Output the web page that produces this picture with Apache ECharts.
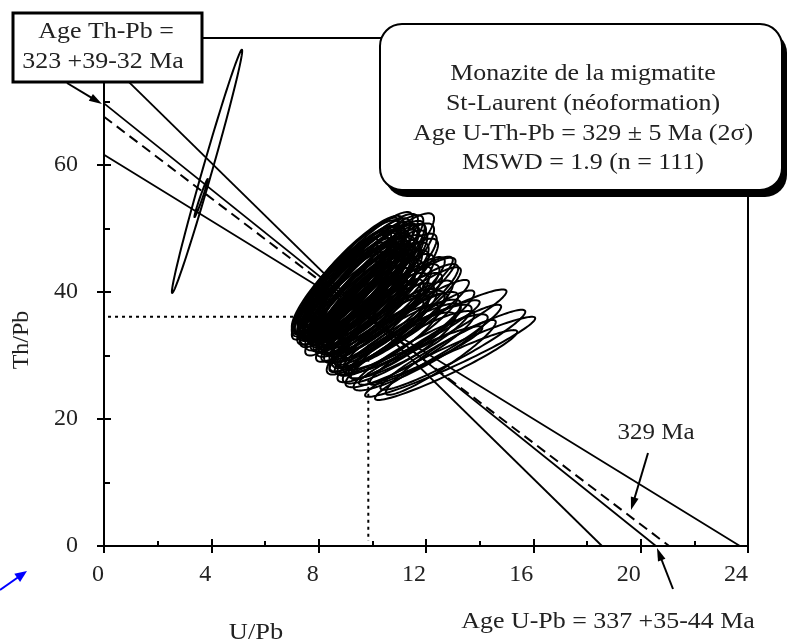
<!DOCTYPE html>
<html><head><meta charset="utf-8">
<script src="https://cdn.jsdelivr.net/npm/echarts@6/dist/echarts.min.js"></script>
<style>html,body{margin:0;padding:0;background:#fff}#c{width:790px;height:643px}</style>
</head><body><div id="c"></div>
<script>
// ---- axis ticks ----
const xTickValues = [0, 4, 8, 12, 16, 20, 24];
const yTickValues = [0, 20, 40, 60];

// ---- error ellipses (centre U/Pb, centre Th/Pb, half-range U/Pb, half-range Th/Pb, correlation) ----
const ellCx = [3.84, 3.62,
  9.0, 8.8, 9.0, 9.2, 8.9, 9.4, 9.6, 9.1, 9.3, 9.8, 10.0, 9.5, 9.7, 8.6, 8.6, 9.9, 10.2, 9.0, 9.6, 10.1,
  8.9, 9.1, 9.3, 9.5, 8.9, 9.7, 9.2, 9.9, 9.0, 9.4, 10.3, 9.8,
  9.05, 9.15, 9.25, 9.35, 9.45, 9.55, 9.65, 9.75, 9.85, 9.95, 10.05, 10.15, 9.35, 9.55, 9.75, 9.95, 10.25,
  9.1, 8.95, 9.2, 9.5, 9.7, 10.0, 10.3, 10.4, 9.4, 9.8, 10.2, 10.5, 9.6, 10.0, 10.4, 10.7, 10.3, 11.1, 11.4, 10.6, 11.0,
  10.2, 10.5, 10.0, 10.8, 10.4, 10.9, 10.1, 11.0, 11.4, 11.8, 9.6, 9.2, 10.6, 11.0, 10.9,
  12.9, 12.1, 12.75, 11.5, 11.8, 10.95, 10.55, 10.6, 13.0, 12.35, 12.55, 11.2, 11.5];
const ellCy = [59.0, 54.8,
  41.8, 41.0, 42.5, 41.5, 40.2, 43.0, 42.0, 39.5, 40.5, 43.5, 42.5, 38.8, 39.8, 39.5, 41.0, 41.0, 44.0, 38.5, 37.8, 39.0,
  41.5, 43.0, 42.2, 40.8, 39.0, 41.5, 37.8, 40.0, 42.0, 39.2, 41.2, 38.2,
  41.2, 42.0, 40.0, 41.8, 40.6, 42.6, 41.0, 42.2, 40.4, 42.8, 41.6, 40.2, 39.0, 39.4, 38.6, 39.2, 42.6,
  40.6, 39.8, 43.4, 44.0, 43.8, 38.0, 38.8, 40.6, 37.4, 37.0, 36.4, 37.4, 36.2, 35.0, 35.2, 34.2, 33.8, 33.0, 32.2, 32.4, 31.2,
  37.0, 36.0, 35.5, 35.0, 34.0, 33.5, 33.0, 32.0, 31.0, 30.5, 35.0, 36.5, 38.0, 37.0, 38.2,
  29.8, 33.9, 28.5, 33.2, 30.0, 36.2, 38.0, 33.6, 30.9, 31.7, 29.7, 35.0, 33.25];
const ellSx = [1.31, 0.25,
  1.9, 1.8, 2.0, 1.9, 1.7, 2.0, 2.1, 1.8, 1.9, 2.1, 2.0, 1.8, 1.9, 1.6, 1.6, 2.0, 2.1, 1.7, 1.8, 2.0,
  1.8, 1.9, 1.9, 1.9, 1.7, 2.0, 1.7, 1.9, 1.9, 1.8, 2.1, 1.9,
  1.85, 1.9, 1.8, 1.9, 1.85, 2.0, 1.9, 2.0, 1.9, 2.0, 2.0, 1.95, 1.75, 1.8, 1.8, 1.9, 2.05,
  1.8, 1.7, 1.95, 2.0, 2.0, 1.9, 2.0, 2.05, 1.7, 1.8, 1.9, 2.0, 1.7, 1.8, 1.9, 2.0, 1.8, 2.2, 2.3, 1.9, 2.1,
  2.0, 2.1, 1.9, 2.2, 2.0, 2.3, 1.8, 2.3, 2.4, 2.5, 1.7, 1.7, 2.1, 2.2, 2.2,
  3.17, 2.9, 2.65, 2.5, 2.3, 2.35, 2.45, 2.2, 2.7, 2.45, 2.05, 2.4, 2.3];
const ellSy = [19.15, 3.0,
  8.5, 8.0, 8.8, 8.4, 7.6, 8.6, 8.8, 7.8, 8.0, 8.6, 8.2, 7.5, 7.8, 7.0, 7.6, 8.0, 8.4, 7.2, 7.3, 7.6,
  8.2, 8.7, 8.3, 8.0, 7.3, 8.3, 7.0, 7.7, 8.4, 7.5, 8.0, 7.2,
  8.2, 8.4, 7.8, 8.3, 8.0, 8.5, 8.0, 8.4, 7.8, 8.4, 8.1, 7.6, 7.4, 7.5, 7.3, 7.5, 8.2,
  7.9, 7.5, 8.6, 8.6, 8.5, 7.0, 7.2, 7.8, 6.8, 6.8, 6.6, 7.0, 6.4, 6.2, 6.2, 6.0, 5.8, 5.8, 5.8, 5.6, 5.6,
  7.0, 7.0, 6.5, 6.8, 6.5, 6.5, 6.0, 6.2, 6.0, 6.0, 6.0, 6.5, 7.5, 7.4, 7.2,
  6.3, 6.5, 5.5, 5.5, 4.6, 7.7, 7.55, 6.2, 6.3, 6.3, 5.9, 6.9, 7.0];
const ellRho = [0.99, 0.98,
  0.9, 0.89, 0.9, 0.89, 0.88, 0.9, 0.89, 0.88, 0.89, 0.9, 0.89, 0.88, 0.88, 0.89, 0.9, 0.89, 0.9, 0.88, 0.87, 0.87,
  0.9, 0.91, 0.9, 0.89, 0.88, 0.89, 0.87, 0.88, 0.9, 0.88, 0.89, 0.87,
  0.88, 0.88, 0.87, 0.88, 0.87, 0.88, 0.87, 0.88, 0.87, 0.88, 0.87, 0.87, 0.87, 0.87, 0.86, 0.87, 0.88,
  0.88, 0.88, 0.89, 0.9, 0.89, 0.86, 0.87, 0.88, 0.86, 0.86, 0.86, 0.87, 0.86, 0.86, 0.86, 0.87, 0.86, 0.88, 0.89, 0.87, 0.88,
  0.90, 0.90, 0.89, 0.90, 0.89, 0.90, 0.88, 0.90, 0.90, 0.91, 0.89, 0.90, 0.91, 0.91, 0.92,
  0.96, 0.95, 0.95, 0.94, 0.94, 0.93, 0.93, 0.93, 0.95, 0.95, 0.94, 0.94, 0.94];

// ---- regression lines (Th/Pb intercept, U/Pb intercept) ----
const envelopeYInt = [69.7, 61.6, 76.9];
const envelopeXInt = [20.57, 23.7, 18.56];
const bestFitYInt = 67.6;
const bestFitXInt = 21.06;
// ---- 329 Ma reference point (U/Pb, Th/Pb) ----
const refUPb = 9.85;
const refThPb = 36.1;

const FONT = 'Liberation Serif';
const chart = echarts.init(document.getElementById('c'));

const ellData = ellCx.map((v, i) => [v, ellCy[i], ellSx[i], ellSy[i], ellRho[i]]);

function arrow(x1, y1, x2, y2, color, hl, hw) {
  const dx = x2 - x1, dy = y2 - y1, L = Math.hypot(dx, dy), ux = dx / L, uy = dy / L;
  const bx = x2 - ux * hl, by = y2 - uy * hl;
  return [
    {type: 'line', z: 101, shape: {x1: x1, y1: y1, x2: bx + ux * 2, y2: by + uy * 2}, style: {stroke: color, lineWidth: 2}},
    {type: 'polygon', z: 101, shape: {points: [[x2, y2], [bx - uy * hw, by + ux * hw], [bx + uy * hw, by - ux * hw]]}, style: {fill: color}}
  ];
}
function txt(text, x, y, opts) {
  return Object.assign({type: 'text', z: 102, x: x, y: y, scaleX: 1.08,
    style: {text: text, fontFamily: FONT, fontSize: 24, fill: '#222', align: 'center', verticalAlign: 'middle'}}, opts || {});
}

const series = [];
envelopeYInt.forEach((yi, i) => {
  series.push({type: 'line', silent: true, symbol: 'none', animation: false, z: 3,
    data: [[0, yi], [envelopeXInt[i], 0]], lineStyle: {color: '#000', width: 1.8}});
});
series.push({type: 'line', silent: true, symbol: 'none', animation: false, z: 3,
  data: [[0, bestFitYInt], [bestFitXInt, 0]], lineStyle: {color: '#000', width: 2, type: [10, 6]}});
series.push({type: 'line', silent: true, symbol: 'none', animation: false, z: 3,
  data: [[0.15, refThPb], [refUPb, refThPb]], lineStyle: {color: '#000', width: 2, type: [3, 4]}});
series.push({type: 'line', silent: true, symbol: 'none', animation: false, z: 3,
  data: [[refUPb, refThPb], [refUPb, 0.8]], lineStyle: {color: '#000', width: 2, type: [3, 4]}});
series.push({
  type: 'custom', silent: true, animation: false, z: 4,
  encode: {x: 0, y: 1},
  data: ellData,
  renderItem: function (params, api) {
    const cx = api.value(0), cy = api.value(1), sx = api.value(2), sy = api.value(3), r = api.value(4);
    const s = Math.sqrt(1 - r * r);
    const pts = [];
    const N = 120;
    for (let k = 0; k < N; k++) {
      const t = k / N * Math.PI * 2;
      pts.push(api.coord([cx + sx * Math.cos(t), cy + sy * (r * Math.cos(t) + s * Math.sin(t))]));
    }
    return {type: 'polygon', shape: {points: pts}, style: {fill: 'none', stroke: '#000', lineWidth: 2}};
  }
});

const axisCommon = {type: 'value', splitLine: {show: false}};
const graphics = [].concat(
  [{type: 'rect', z: 100, shape: {x: 13, y: 13, width: 189, height: 69}, style: {fill: '#fff', stroke: '#000', lineWidth: 3}}],
  [txt('Age Th-Pb =', 106, 32), txt('323 +39-32 Ma', 103, 62)],
  arrow(67, 83, 102, 104, '#000', 13, 4),
  [{type: 'rect', z: 99, shape: {x: 385, y: 31, width: 402, height: 166, r: 22}, style: {fill: '#000'}},
   {type: 'rect', z: 100, shape: {x: 380, y: 24, width: 402, height: 166, r: 22}, style: {fill: '#fff', stroke: '#000', lineWidth: 2}}],
  [txt('Monazite de la migmatite', 583, 74), txt('St-Laurent (néoformation)', 583, 104),
   txt('Age U-Th-Pb = 329 \u00b1 5 Ma (2\u03c3)', 583, 134), txt('MSWD = 1.9 (n = 111)', 583, 163)],
  [txt('329 Ma', 656, 433, {scaleX: 1.04})],
  arrow(648, 453, 631, 510, '#000', 13, 4),
  [txt('Age U-Pb = 337 +35-44 Ma', 608, 622)],
  arrow(673, 589, 657, 548, '#000', 13, 4),
  [txt('U/Pb', 256, 633, {scaleX: 1.1}), txt('Th/Pb', 22, 340, {scaleX: 1, rotation: Math.PI / 2})],
  arrow(0, 590, 27, 571, '#0000ff', 12, 5)
);

chart.setOption({
  animation: false,
  backgroundColor: '#fff',
  grid: {left: 104, right: 42, top: 38, bottom: 97, show: true, borderColor: '#000', borderWidth: 2, backgroundColor: 'transparent'},
  xAxis: [
    Object.assign({}, axisCommon, {min: 0, max: 24, interval: 4, position: 'bottom',
      axisLine: {show: true, lineStyle: {color: '#000', width: 2}},
      axisTick: {show: true, inside: true, length: 7, lineStyle: {color: '#000', width: 2}},
      minorTick: {show: true, splitNumber: 2, length: 5, lineStyle: {color: '#000', width: 2}},
      axisLabel: {show: true, margin: 17, align: 'right', fontFamily: FONT, fontSize: 24, color: '#222',
        customValues: xTickValues}}),
    Object.assign({}, axisCommon, {min: 0, max: 24, interval: 4, position: 'bottom', offset: 0,
      axisLine: {show: false},
      axisTick: {show: true, inside: false, length: 7, lineStyle: {color: '#000', width: 2}},
      axisLabel: {show: false}})
  ],
  yAxis: [
    Object.assign({}, axisCommon, {min: 0, max: 80, interval: 20, position: 'left',
      axisLine: {show: true, lineStyle: {color: '#000', width: 2}},
      axisTick: {show: true, inside: true, length: 7, lineStyle: {color: '#000', width: 2}},
      minorTick: {show: true, splitNumber: 2, length: 6, lineStyle: {color: '#000', width: 2}},
      axisLabel: {show: true, margin: 26, fontFamily: FONT, fontSize: 24, color: '#222',
        customValues: yTickValues}}),
    Object.assign({}, axisCommon, {min: 0, max: 80, interval: 20, position: 'left', offset: 0,
      axisLine: {show: false},
      axisTick: {show: true, inside: false, length: 7, lineStyle: {color: '#000', width: 2}},
      axisLabel: {show: false}})
  ],
  series: series,
  graphic: graphics
});
</script></body></html>
